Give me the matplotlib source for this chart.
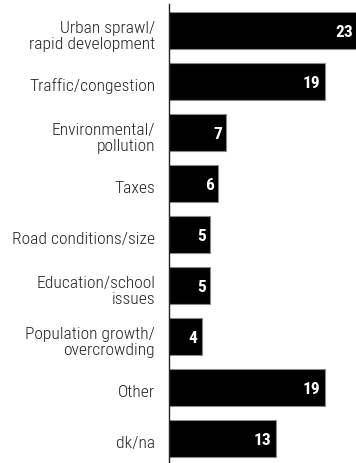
import matplotlib
matplotlib.use("Agg")
import matplotlib.pyplot as plt
import matplotlib.transforms as mtransforms

categories = [
    "Urban sprawl/\nrapid development",
    "Traffic/congestion",
    "Environmental/\npollution",
    "Taxes",
    "Road conditions/size",
    "Education/school\nissues",
    "Population growth/\novercrowding",
    "Other",
    "dk/na",
]
values = [23, 19, 7, 6, 5, 5, 4, 19, 13]

plt.rcParams["font.family"] = ["Roboto Condensed", "DejaVu Sans"]

W, H = 356, 464
fig = plt.figure(figsize=(W / 100, H / 100), dpi=100)
left_px, top_px, bottom_px = 169, 5, 464
ax = fig.add_axes([left_px / W, (H - bottom_px) / H, (W - left_px) / W, (bottom_px - top_px) / H])

px_per_unit = 8.2
ax.set_xlim(0, (W - left_px) / px_per_unit)
ax.set_ylim(8.48, -0.52)

pos = list(range(len(categories)))
ax.barh(pos, values, height=0.725, color="black", edgecolor="#8a8a8a", linewidth=0.8)

for p, v in zip(pos, values):
    ax.annotate(str(v), xy=(v, p), xytext=(-3, -1), textcoords="offset points",
                ha="right", va="center", color="white", fontsize=12.5, fontweight="bold",
                annotation_clip=False)

ax.set_yticks(pos)
ax.set_yticklabels(categories, fontsize=12.6, color="#222222", linespacing=1.1, fontweight="light")
ax.tick_params(axis="y", length=0, pad=10)
shift = mtransforms.ScaledTranslation(0, -2.5 / 100, fig.dpi_scale_trans)
for lbl in ax.get_yticklabels():
    lbl.set_transform(lbl.get_transform() + shift)
ax.set_xticks([])
for s in ["top", "right", "bottom"]:
    ax.spines[s].set_visible(False)
ax.spines["left"].set_linewidth(1.0)
ax.spines["left"].set_color("#222222")

fig.savefig("out.png", dpi=100)
